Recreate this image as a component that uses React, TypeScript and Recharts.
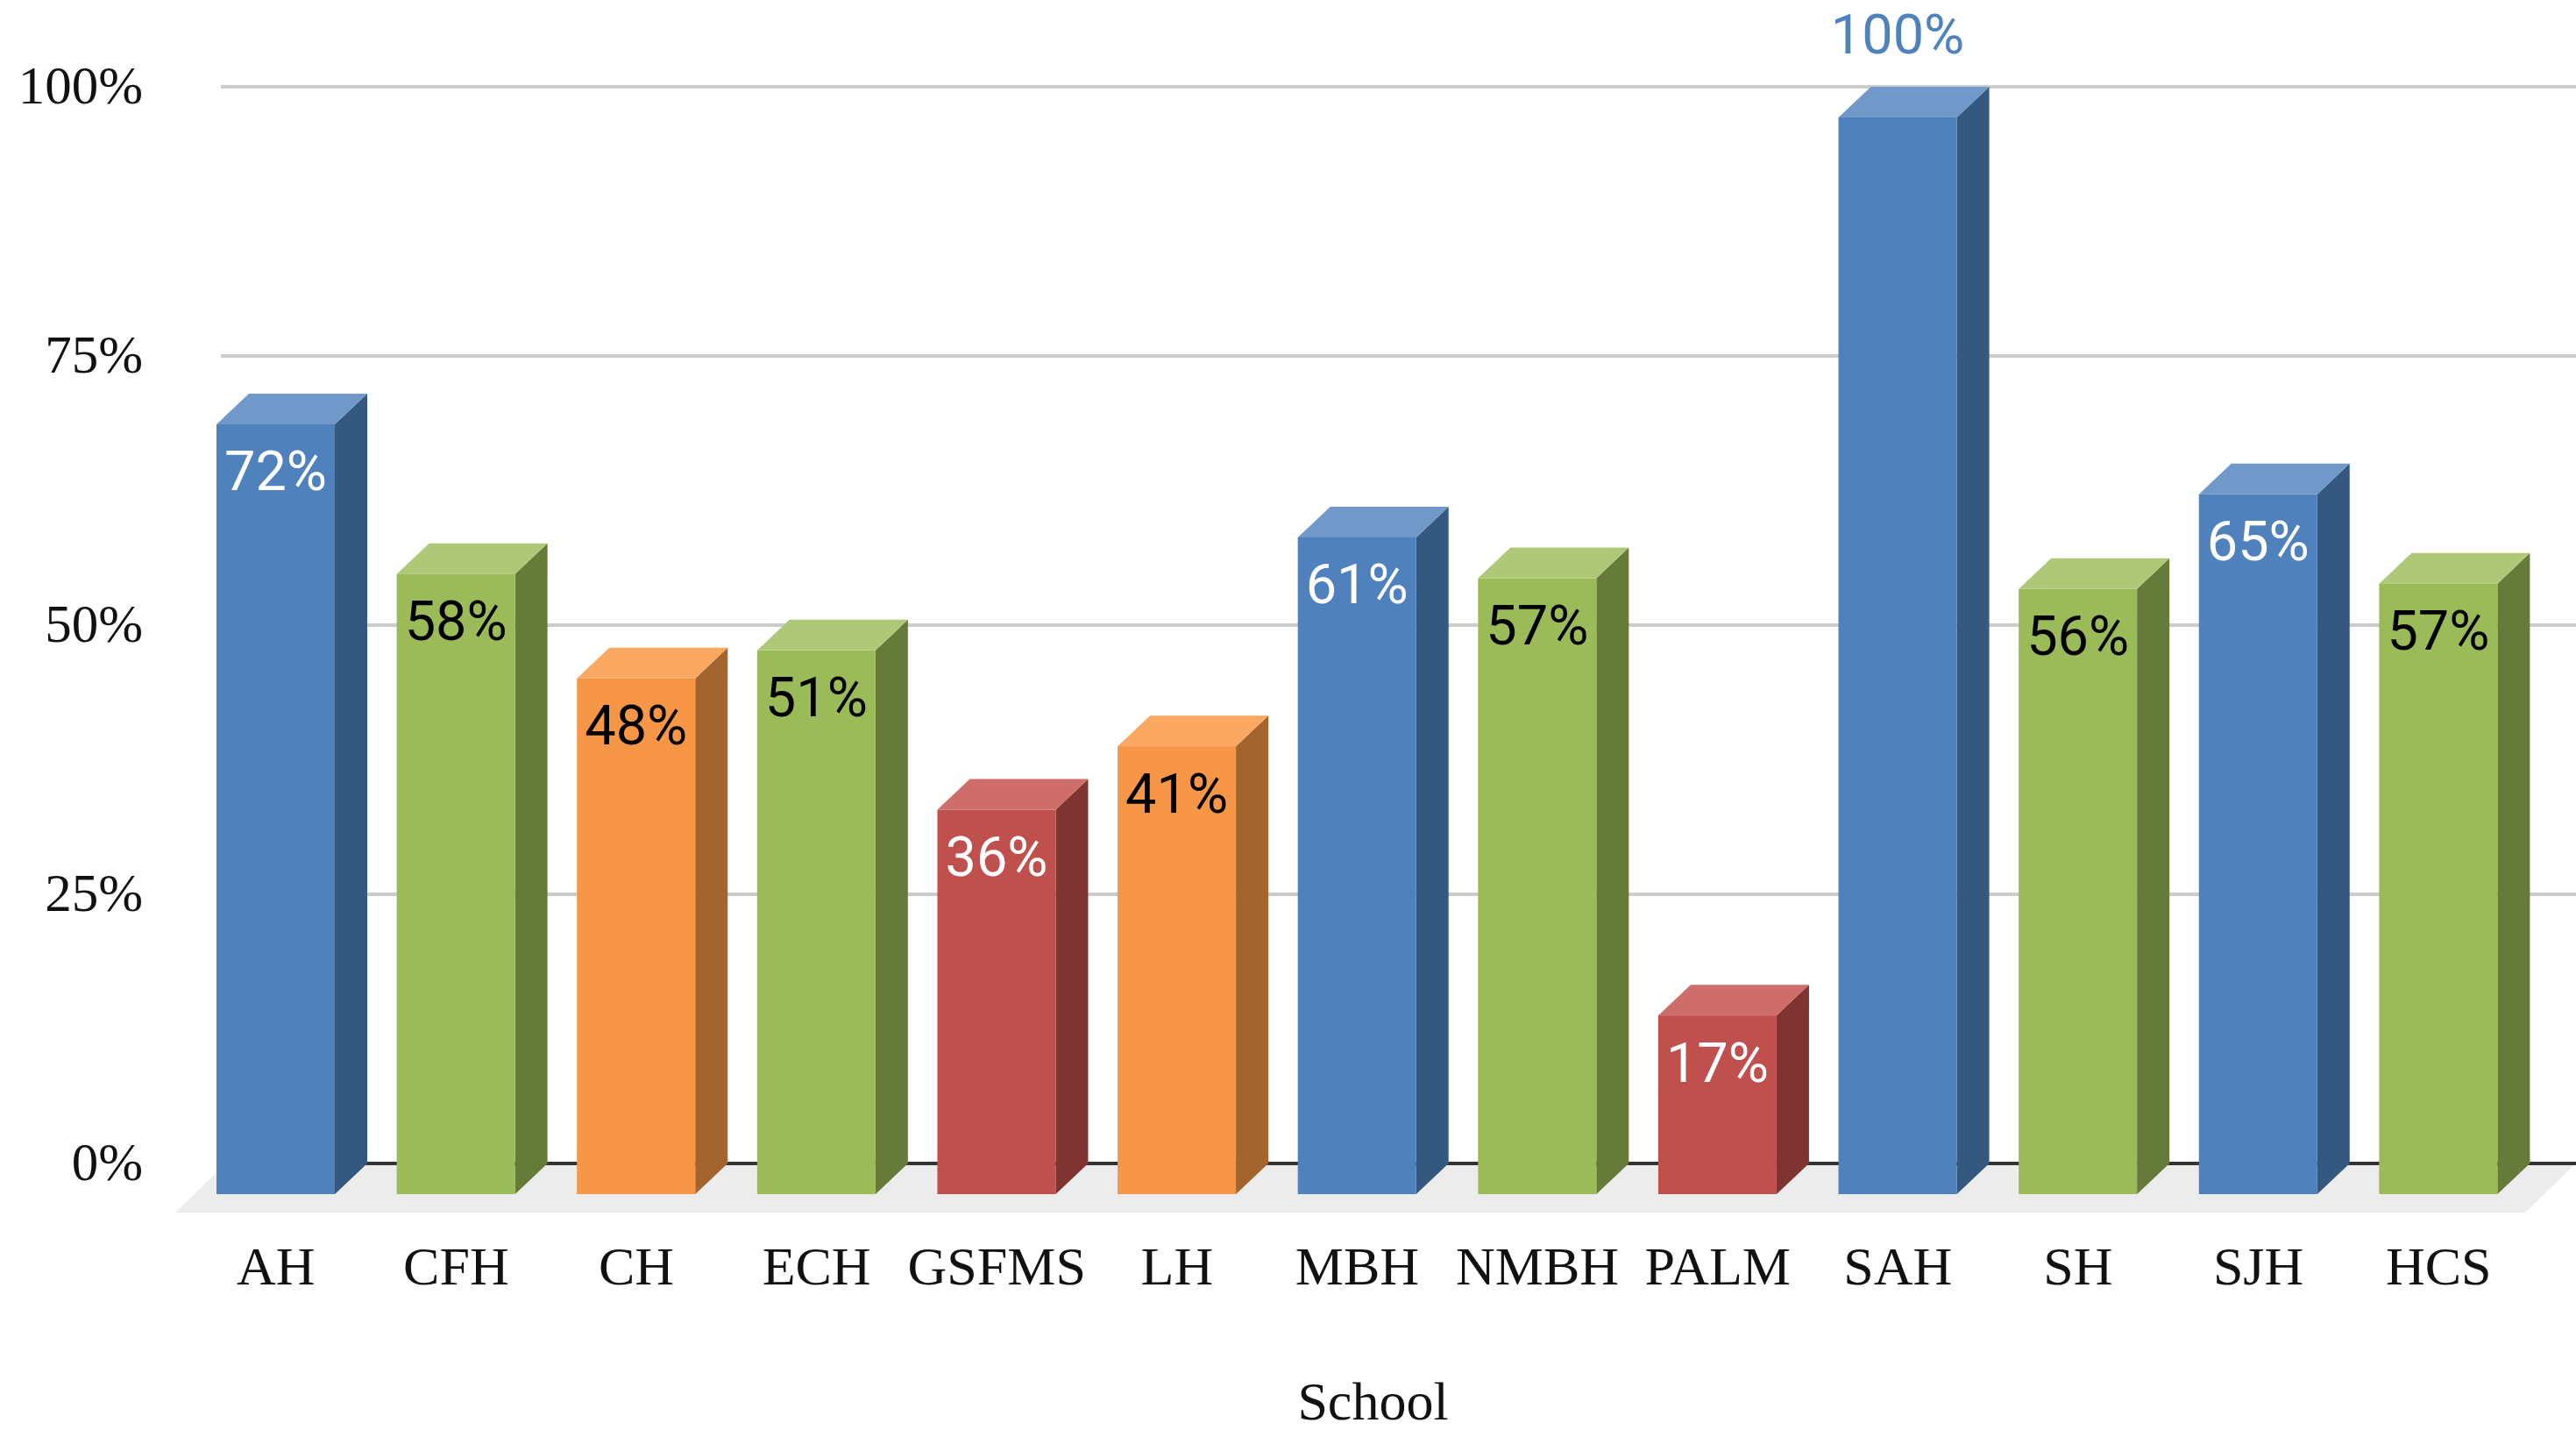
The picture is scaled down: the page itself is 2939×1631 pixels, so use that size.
import { Bar, BarChart, CartesianGrid, Label, LabelList, XAxis, YAxis } from "recharts";

const schools = ["AH", "CFH", "CH", "ECH", "GSFMS", "LH", "MBH", "NMBH", "PALM", "SAH", "SH", "SJH", "HCS"];
// column heights as drawn in the picture, printed labels are rounded slightly differently
const percents = [71.5, 57.6, 47.9, 50.5, 35.7, 41.6, 61, 57.2, 16.6, 100, 56.2, 65, 56.7];
const percentLabels = ["72%", "58%", "48%", "51%", "36%", "41%", "61%", "57%", "17%", "100%", "56%", "65%", "57%"];
const tiers = ["blue", "green", "orange", "green", "red", "orange", "blue", "green", "red", "blue", "green", "blue", "green"];
const yTicks = [0, 25, 50, 75, 100];

// front / side / top face of each 3D column
const faces: Record<string, { front: string; side: string; top: string; label: string }> = {
  blue: { front: "#4f81bd", side: "#34587f", top: "#7099c9", label: "#ffffff" },
  green: { front: "#9bbb59", side: "#667a39", top: "#aec878", label: "#000000" },
  orange: { front: "#f79646", side: "#a3642e", top: "#fba862", label: "#000000" },
  red: { front: "#c0504d", side: "#803432", top: "#cf6d6b", label: "#ffffff" },
};

const data = schools.map((school, i) => ({ school, percent: percents[i], tier: tiers[i] }));

const SERIF = "'Liberation Serif', serif";
const DEPTH_X = 37;
const DEPTH_Y = 35;
const GRID_LEFT = 252;
const PAGE_WIDTH = 2939;

// Bar rect is the back face on the value scale; the front is pushed down and left.
function Column3D({ x, y, width, height, payload }: any) {
  const c = faces[payload.tier];
  const right = x + width;
  return (
    <g>
      <polygon
        points={`${right},${y + DEPTH_Y} ${right + DEPTH_X},${y} ${right + DEPTH_X},${y + height} ${right},${y + height + DEPTH_Y}`}
        fill={c.side}
      />
      <polygon
        points={`${x},${y + DEPTH_Y} ${x + DEPTH_X},${y} ${right + DEPTH_X},${y} ${right},${y + DEPTH_Y}`}
        fill={c.top}
      />
      <rect x={x} y={y + DEPTH_Y} width={width} height={height} fill={c.front} />
    </g>
  );
}

function PercentLabel({ x, y, width, value, index }: any) {
  const c = faces[tiers[index]];
  const above = value >= 100;
  return (
    <text
      x={x + width / 2}
      y={above ? y - 60 : y + DEPTH_Y + 54}
      textAnchor="middle"
      dominantBaseline="central"
      fontFamily="Roboto, sans-serif"
      fontSize={63}
      fill={above ? "#4f81bd" : c.label}
    >
      {percentLabels[index]}
    </text>
  );
}

// Gridlines run past the plot area; the zero line also carries the grey floor.
function GridLine({ y1, index }: any) {
  const isZero = y1 > 1300;
  if (isZero) {
    return (
      <g key={`floor-${index}`}>
        <polygon
          points={`200,${y1 + 56} 2881,${y1 + 56} ${PAGE_WIDTH},${y1} 258,${y1}`}
          fill="#ececec"
        />
        <line x1={GRID_LEFT} x2={PAGE_WIDTH} y1={y1} y2={y1} stroke="#333333" strokeWidth={4} />
      </g>
    );
  }
  return <line key={`grid-${index}`} x1={GRID_LEFT} x2={PAGE_WIDTH} y1={y1} y2={y1} stroke="#cccccc" strokeWidth={4} />;
}

export default function App() {
  return (
    <div style={{ position: "absolute", left: 0, top: 0, width: PAGE_WIDTH, height: 1631, background: "#ffffff" }}>
      <BarChart
        width={PAGE_WIDTH}
        height={1631}
        data={data}
        margin={{ top: 99, right: 54, bottom: 0, left: 1 }}
        barSize={135}
      >
        <CartesianGrid vertical={false} horizontal={GridLine as any} />
        <XAxis
          dataKey="school"
          interval={0}
          height={304}
          axisLine={false}
          tickLine={false}
          tickMargin={88}
          tick={{ fontFamily: SERIF, fontSize: 62, fill: "#111111" }}
        >
          <Label
            value="School"
            position="insideBottom"
            offset={12}
            dx={18}
            style={{ fontFamily: SERIF, fontSize: 62, fill: "#111111" }}
          />
        </XAxis>
        <YAxis
          width={211}
          domain={[0, 100]}
          ticks={yTicks}
          axisLine={false}
          tickLine={false}
          tickMargin={43}
          tickFormatter={(v: number) => `${v}%`}
          tick={{ fontFamily: SERIF, fontSize: 61, fill: "#111111", dy: -3 }}
        />
        <Bar dataKey="percent" isAnimationActive={false} shape={Column3D as any}>
          <LabelList dataKey="percent" content={PercentLabel as any} />
        </Bar>
      </BarChart>
    </div>
  );
}
